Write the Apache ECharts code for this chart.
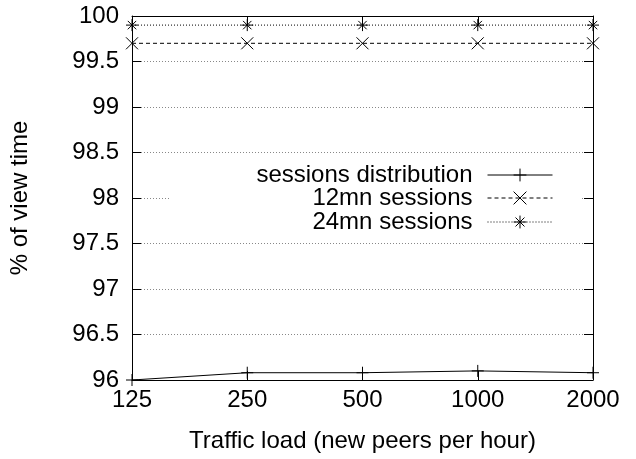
<!DOCTYPE html>
<html>
<head>
<meta charset="utf-8">
<script src="https://cdn.jsdelivr.net/npm/echarts@6/dist/echarts.min.js"></script>
<style>html,body{margin:0;padding:0;background:#fff}#c{width:636px;height:459px}</style>
</head>
<body>
<div id="c"></div>
<script>
const categories = ['125', '250', '500', '1000', '2000'];
const sessionsDistribution = [96.0, 96.08, 96.08, 96.1, 96.08];
const sessions12mn = [99.7, 99.7, 99.7, 99.7, 99.7];
const sessions24mn = [99.9, 99.9, 99.9, 99.9, 99.9];
const yMin = 96, yMax = 100, yStep = 0.5;

const FONT = 'Liberation Sans, Arial, sans-serif';
const FS = 24;
const plusSym = 'path://M0,5 L10,5 M5,0 L5,10';
const crossSym = 'path://M0,0 L10,10 M10,0 L0,10';
const starSym = 'path://M0,5 L10,5 M5,0 L5,10 M1.5,1.5 L8.5,8.5 M8.5,1.5 L1.5,8.5';

function mkSeries(name, data, sym, type) {
  return {
    name: name, type: 'line', data: data, symbol: sym, symbolSize: 12,
    clip: false, animation: false,
    lineStyle: { color: '#000', width: 1, type: type },
    itemStyle: { color: 'rgba(0,0,0,0)', borderColor: '#000', borderWidth: 1 }
  };
}

function mkLegend(name, top) {
  return {
    data: [name], orient: 'vertical', align: 'right', right: 83, top: top,
    padding: 0, itemWidth: 65, itemHeight: 16, selectedMode: false,
    lineStyle: { width: 1 },
    itemStyle: { color: 'rgba(0,0,0,0)', borderColor: '#000', borderWidth: 1 },
    textStyle: { fontFamily: FONT, fontSize: FS, color: '#000', padding: [0, 10, 0, 0] }
  };
}

const chart = echarts.init(document.getElementById('c'));
chart.setOption({
  animation: false,
  backgroundColor: '#fff',
  grid: { left: 131, right: 43, top: 16, bottom: 79 },
  graphic: [{ type: 'rect', z: 1, shape: { x: 170, y: 161, width: 410, height: 74 }, style: { fill: '#fff' } }],
  legend: [
    mkLegend('sessions distribution', 163),
    mkLegend('12mn sessions', 186),
    mkLegend('24mn sessions', 210)
  ],
  xAxis: [{
    type: 'category', data: categories, boundaryGap: false,
    name: 'Traffic load (new peers per hour)', nameLocation: 'middle', nameGap: 49,
    nameTextStyle: { fontFamily: FONT, fontSize: FS, color: '#000' },
    axisLine: { lineStyle: { color: '#000', width: 1 } },
    axisTick: { inside: true, length: 9, lineStyle: { color: '#000' } },
    axisLabel: { fontFamily: FONT, fontSize: FS, color: '#000', margin: 8 },
    splitLine: { show: false }
  }, {
    type: 'category', data: categories, boundaryGap: false, position: 'top',
    axisLine: { lineStyle: { color: '#000', width: 1 } },
    axisTick: { inside: true, length: 9, lineStyle: { color: '#000' } },
    axisLabel: { show: false }, splitLine: { show: false }
  }],
  yAxis: [{
    type: 'value', min: yMin, max: yMax, interval: yStep,
    name: '% of view time', nameLocation: 'middle', nameGap: 100,
    nameTextStyle: { fontFamily: FONT, fontSize: FS, color: '#000' },
    axisLine: { show: true, lineStyle: { color: '#000', width: 1 } },
    axisTick: { show: true, inside: true, length: 9, lineStyle: { color: '#000' } },
    axisLabel: { fontFamily: FONT, fontSize: FS, color: '#000', margin: 13 },
    splitLine: { show: true, lineStyle: { color: '#888', type: [1, 2], width: 1 } }
  }, {
    type: 'value', min: yMin, max: yMax, interval: yStep, position: 'right',
    axisLine: { show: true, lineStyle: { color: '#000', width: 1 } },
    axisTick: { show: true, inside: true, length: 9, lineStyle: { color: '#000' } },
    axisLabel: { show: false }, splitLine: { show: false }
  }],
  series: [
    mkSeries('sessions distribution', sessionsDistribution, plusSym, 'solid'),
    mkSeries('12mn sessions', sessions12mn, crossSym, [4, 3]),
    mkSeries('24mn sessions', sessions24mn, starSym, [1, 2])
  ]
});
</script>
</body>
</html>
